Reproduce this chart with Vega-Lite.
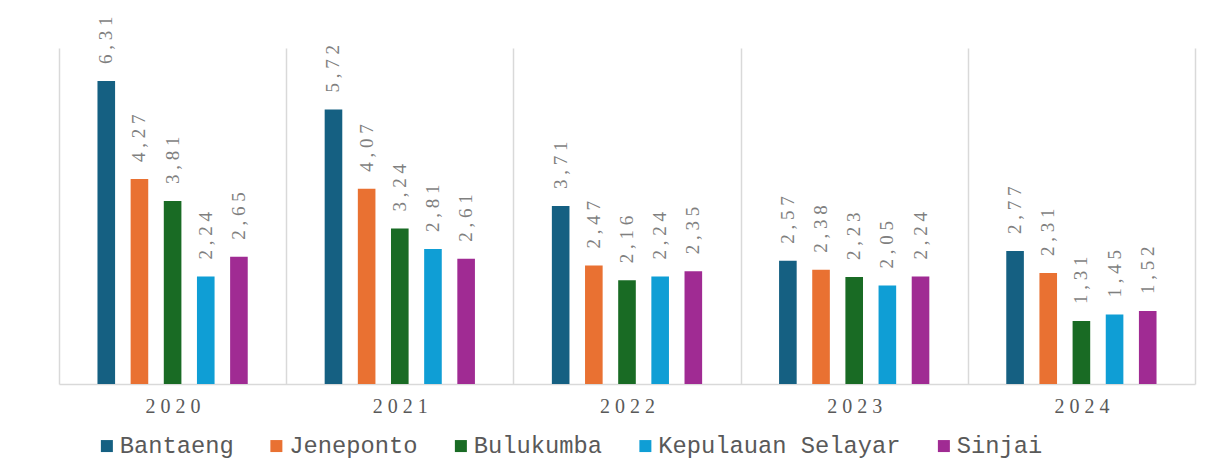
{
  "$schema": "https://vega.github.io/schema/vega-lite/v6.json",
  "width": 1136,
  "height": 336,
  "autosize": {"type": "none"},
  "padding": {"left": 59, "top": 48, "right": 11, "bottom": 74},
  "background": "white",
  "config": {
    "view": {"stroke": null},
    "font": "Liberation Serif"
  },
  "data": {
    "values": [
      {"year": "2020", "region": "Bantaeng", "value": 6.31},
      {"year": "2020", "region": "Jeneponto", "value": 4.27},
      {"year": "2020", "region": "Bulukumba", "value": 3.81},
      {"year": "2020", "region": "Kepulauan Selayar", "value": 2.24},
      {"year": "2020", "region": "Sinjai", "value": 2.65},
      {"year": "2021", "region": "Bantaeng", "value": 5.72},
      {"year": "2021", "region": "Jeneponto", "value": 4.07},
      {"year": "2021", "region": "Bulukumba", "value": 3.24},
      {"year": "2021", "region": "Kepulauan Selayar", "value": 2.81},
      {"year": "2021", "region": "Sinjai", "value": 2.61},
      {"year": "2022", "region": "Bantaeng", "value": 3.71},
      {"year": "2022", "region": "Jeneponto", "value": 2.47},
      {"year": "2022", "region": "Bulukumba", "value": 2.16},
      {"year": "2022", "region": "Kepulauan Selayar", "value": 2.24},
      {"year": "2022", "region": "Sinjai", "value": 2.35},
      {"year": "2023", "region": "Bantaeng", "value": 2.57},
      {"year": "2023", "region": "Jeneponto", "value": 2.38},
      {"year": "2023", "region": "Bulukumba", "value": 2.23},
      {"year": "2023", "region": "Kepulauan Selayar", "value": 2.05},
      {"year": "2023", "region": "Sinjai", "value": 2.24},
      {"year": "2024", "region": "Bantaeng", "value": 2.77},
      {"year": "2024", "region": "Jeneponto", "value": 2.31},
      {"year": "2024", "region": "Bulukumba", "value": 1.31},
      {"year": "2024", "region": "Kepulauan Selayar", "value": 1.45},
      {"year": "2024", "region": "Sinjai", "value": 1.52}
    ]
  },
  "transform": [
    {"calculate": "join(split(replace(format(datum.value, '.2f'), '.', ','), ''), ' ')", "as": "label"}
  ],
  "encoding": {
    "x": {
      "field": "year",
      "type": "nominal",
      "scale": {"paddingInner": 0, "paddingOuter": 0},
      "axis": {
        "title": null,
        "labelAngle": 0,
        "labelExpr": "join(split(datum.label, ''), ' ')",
        "labelFont": "Liberation Serif",
        "labelFontSize": 20,
        "labelColor": "#595959",
        "labelPadding": 12,
        "ticks": false,
        "domainColor": "#d9d9d9",
        "domainWidth": 1.5,
        "grid": true,
        "gridColor": "#d9d9d9",
        "gridWidth": 1.5,
        "tickBand": "extent"
      }
    },
    "xOffset": {
      "field": "region",
      "type": "nominal",
      "scale": {
        "domain": ["", "Bantaeng", "Jeneponto", "Bulukumba", "Kepulauan Selayar", "Sinjai", " "],
        "paddingInner": 0.469,
        "paddingOuter": 0.16
      }
    },
    "y": {
      "field": "value",
      "type": "quantitative",
      "scale": {"domain": [0, 7]},
      "axis": null
    }
  },
  "layer": [
    {
      "mark": {"type": "bar"},
      "encoding": {
        "color": {
          "field": "region",
          "type": "nominal",
          "scale": {
            "domain": ["Bantaeng", "Jeneponto", "Bulukumba", "Kepulauan Selayar", "Sinjai"],
            "range": ["#156082", "#E97132", "#196B24", "#0F9ED5", "#A02B93"]
          },
          "legend": {
            "title": null,
            "orient": "none",
            "direction": "horizontal",
            "legendX": 36,
            "legendY": 386,
            "padding": 0,
            "symbolType": "square",
            "symbolSize": 144,
            "symbolStrokeWidth": 0,
            "symbolOpacity": 1,
            "labelFont": "Liberation Mono",
            "labelFontSize": 23.75,
            "labelColor": "#595959",
            "labelOffset": 1,
            "columnPadding": 30.5,
            "labelLimit": 400
          }
        }
      }
    },
    {
      "mark": {
        "type": "text",
        "angle": 270,
        "align": "left",
        "baseline": "middle",
        "dx": 17,
        "font": "Liberation Serif",
        "fontSize": 19,
        "color": "#7f7f7f"
      },
      "encoding": {
        "text": {"field": "label"}
      }
    }
  ]
}
